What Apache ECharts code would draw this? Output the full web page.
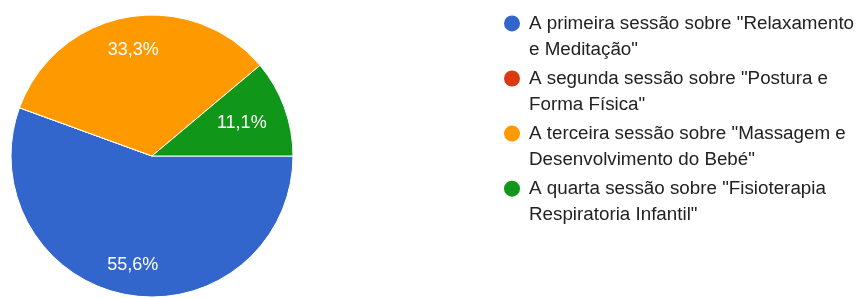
<!DOCTYPE html>
<html>
<head>
<meta charset="utf-8">
<script src="https://cdn.jsdelivr.net/npm/echarts@6/dist/echarts.min.js"></script>
<style>
html,body{margin:0;padding:0;background:#fff;}
#chart{width:861px;height:298px;}
</style>
</head>
<body>
<div id="chart"></div>
<script>
// ---- data ----
const categories = [
  'A primeira sessão sobre "Relaxamento\ne Meditação"',
  'A segunda sessão sobre "Postura e\nForma Física"',
  'A terceira sessão sobre "Massagem e\nDesenvolvimento do Bebé"',
  'A quarta sessão sobre "Fisioterapia\nRespiratoria Infantil"'
];
const counts = [5, 0, 3, 1];
const colors = ['#3366cc', '#dc3912', '#ff9900', '#109618'];

// ---- layout / style ----
const CX = 152, CY = 156, R = 141;
const labelRadiusFrac = [0.752, 0.5, 0.735, 0.65];

const chart = echarts.init(document.getElementById('chart'), null, {renderer: 'canvas'});
chart.setOption({
  animation: false,
  color: colors,
  legend: {
    orient: 'vertical',
    left: 502,
    top: -15.6,
    padding: 0,
    icon: 'circle',
    itemWidth: 21,
    itemHeight: 18,
    itemGap: -22.9,
    selectedMode: false,
    data: categories,
    formatter: function (name) { return '\n' + name; },
    textStyle: {
      fontFamily: 'Liberation Sans, Arial, sans-serif',
      fontSize: 18.8,
      lineHeight: 26,
      padding: [0, 0, 0, 1.5],
      color: '#222222'
    }
  },
  series: [{
    type: 'pie',
    center: [CX, CY],
    radius: R,
    startAngle: 0,
    clockwise: true,
    percentPrecision: 1,
    avoidLabelOverlap: false,
    emphasis: {disabled: true},
    itemStyle: {borderColor: '#ffffff', borderWidth: 1},
    label: {
      show: true,
      position: 'inside',
      color: '#ffffff',
      fontFamily: 'Liberation Sans, Arial, sans-serif',
      fontSize: 18,
      formatter: function (p) {
        return p.value > 0 ? p.percent.toFixed(1).replace('.', ',') + '%' : '';
      }
    },
    labelLine: {show: false},
    labelLayout: function (p) {
      const r = p.labelRect;
      const lx = r.x + r.width / 2, ly = r.y + r.height / 2;
      const k = labelRadiusFrac[p.dataIndex] / 0.5 - 1;
      return {dx: (lx - CX) * k, dy: (ly - CY) * k};
    },
    data: categories.map(function (c, i) { return {name: c, value: counts[i]}; })
  }]
});
</script>
</body>
</html>
